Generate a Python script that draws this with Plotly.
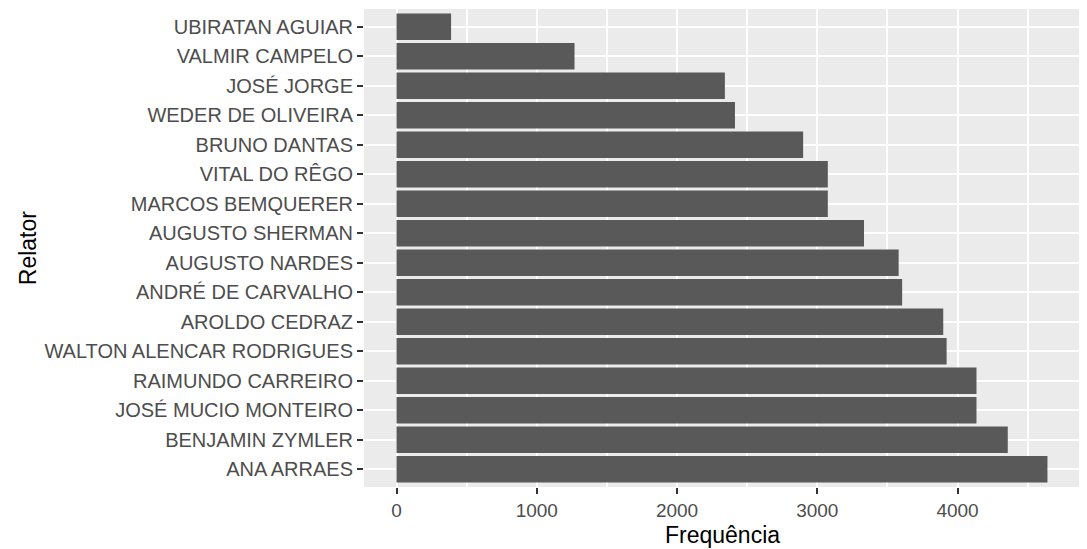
import plotly.graph_objects as go

# bottom to top, as drawn
relatores = ["ANA ARRAES", "BENJAMIN ZYMLER", "JOSÉ MUCIO MONTEIRO", "RAIMUNDO CARREIRO",
             "WALTON ALENCAR RODRIGUES", "AROLDO CEDRAZ", "ANDRÉ DE CARVALHO", "AUGUSTO NARDES",
             "AUGUSTO SHERMAN", "MARCOS BEMQUERER", "VITAL DO RÊGO", "BRUNO DANTAS",
             "WEDER DE OLIVEIRA", "JOSÉ JORGE", "VALMIR CAMPELO", "UBIRATAN AGUIAR"]
frequencia = [4641, 4358, 4135, 4135, 3922, 3898, 3605, 3580,
              3333, 3075, 3075, 2899, 2413, 2341, 1269, 389]

fnt = "Arial, Liberation Sans, sans-serif"

fig = go.Figure(go.Bar(x=frequencia, y=relatores, orientation="h",
                       marker=dict(color="#595959", line=dict(width=0))))

# page body has an 8px margin, so the figure is sized to fit the window
fig.update_layout(width=1079, height=541,
                  margin=dict(l=356, r=7, t=1, b=62, autoexpand=False),
                  paper_bgcolor="white", plot_bgcolor="#EBEBEB",
                  bargap=0.1, showlegend=False,
                  font=dict(family=fnt, size=20, color="#4D4D4D"))

fig.update_xaxes(range=[-232, 4873], dtick=1000, tick0=0, automargin=False,
                 showgrid=True, gridcolor="white", gridwidth=2,
                 minor=dict(dtick=500, tick0=0, showgrid=True, gridcolor="white", gridwidth=1.5),
                 zeroline=False, ticks="outside", ticklen=6, tickwidth=1.5, tickcolor="#333333",
                 tickfont=dict(size=19, color="#4D4D4D"))

fig.update_yaxes(range=[-0.6, 15.6], type="category", automargin=False,
                 showgrid=True, gridcolor="white", gridwidth=2,
                 ticks="outside", ticklen=6, tickwidth=1.5, tickcolor="#333333",
                 tickfont=dict(size=20, color="#4D4D4D"))

# axis titles
fig.add_annotation(text="Frequência", xref="paper", yref="paper", x=0.5, y=-0.1,
                   xanchor="center", yanchor="middle", showarrow=False,
                   font=dict(size=23, color="black"))
fig.add_annotation(text="Relator", xref="paper", yref="paper", x=-0.469, y=0.5,
                   xanchor="center", yanchor="middle", textangle=-90, showarrow=False,
                   font=dict(size=23, color="black"))

fig.write_html("out.html")
